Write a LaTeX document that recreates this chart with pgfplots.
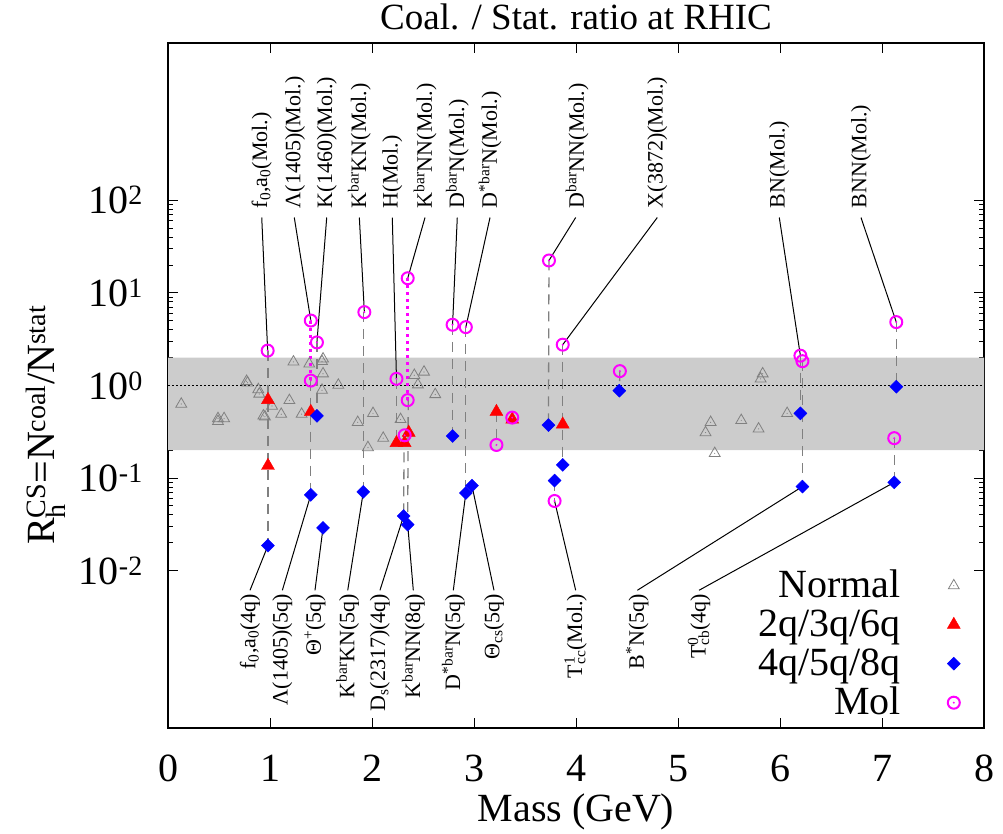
\documentclass[border=0pt]{standalone}
\usepackage{fontspec}
\setmainfont{Liberation Serif}
\usepackage{pgfplots}
\pgfplotsset{compat=1.18}
\usetikzlibrary{plotmarks}
\newcommand\fbig{\fontsize{40}{48}\selectfont}
\newcommand\fx{\fontsize{40}{46}\selectfont}
\newcommand\ftitle{\fontsize{37}{44}\selectfont}
\newcommand\flab{\fontsize{22}{26}\selectfont}
\pgfdeclareplotmark{tridot}{%
  \pgfpathmoveto{\pgfqpoint{0pt}{\pgfplotmarksize}}%
  \pgfpathlineto{\pgfqpoint{-.866\pgfplotmarksize}{-.5\pgfplotmarksize}}%
  \pgfpathlineto{\pgfqpoint{.866\pgfplotmarksize}{-.5\pgfplotmarksize}}%
  \pgfpathclose\pgfusepathqstroke
  \pgfpathcircle{\pgfpointorigin}{0.6pt}\pgfusepathqfill}
\pgfdeclareplotmark{circdot}{%
  \pgfpathcircle{\pgfpointorigin}{\pgfplotmarksize}\pgfusepathqstroke
  \pgfpathcircle{\pgfpointorigin}{1.1pt}\pgfusepathqfill}
\definecolor{bandgray}{RGB}{204,204,204}
\definecolor{ngray}{RGB}{128,128,128}
\definecolor{mag}{RGB}{255,0,255}
\definecolor{rd}{RGB}{255,0,0}
\definecolor{bl}{RGB}{0,0,255}
\tikzset{lab/.style={rotate=90, inner sep=0pt, font=\flab}}
\begin{document}
\begin{tikzpicture}
\useasboundingbox (0,0) rectangle (1003pt,833pt);
\begin{axis}[
  at={(168pt,105pt)}, anchor=south west,
  scale only axis, width=816pt, height=685pt,
  xmin=0, xmax=8, ymode=log, ymin=2e-4, ymax=5000,
  xtick={0,1,2,3,4,5,6,7,8},
  ytick={1e-2,1e-1,1,10,100},
  yticklabels={10\textsuperscript{-2},10\textsuperscript{-1},10\textsuperscript{0},10\textsuperscript{1},10\textsuperscript{2}},
  minor ytick={0.02,0.03,0.04,0.05,0.06,0.07,0.08,0.09,0.2,0.3,0.4,0.5,0.6,0.7,0.8,0.9,2,3,4,5,6,7,8,9,20,30,40,50,60,70,80,90},
  tick align=inside,
  major tick length=10pt, minor tick length=5pt,
  every tick/.style={black, line width=1pt},
  axis line style={line width=1.5pt},
  /pgf/number format/assume math mode=true,
  xticklabel style={font=\fx, inner sep=0pt, anchor=north, yshift=-27pt},
  yticklabel style={font=\fbig, inner sep=0pt, anchor=east, xshift=-25pt},
  title={Coal. / Stat. ratio at RHIC},
  title style={font=\ftitle, at={(axis description cs:0.5,1)}, anchor=base, yshift=7pt, inner sep=0pt},
  xlabel={Mass (GeV)},
  xlabel style={font=\fx, at={(axis description cs:0.5,0)}, anchor=base, yshift=-93pt, inner sep=0pt},
  ylabel={R\rlap{\textsubscript{h}}\textsuperscript{CS}=N\textsuperscript{coal}/N\textsuperscript{stat}},
  ylabel style={font=\fbig, at={(axis description cs:-0.1385,0.442)}, anchor=base, inner sep=0pt},
  legend style={at={(0.9755,0.2336)}, anchor=north east, draw=none, fill=none, font=\fbig,
    nodes={inner sep=0pt, text height=27pt, text depth=12pt}},
  legend cell align=right,
  legend plot pos=right,
  pt/.style={only marks, legend image code/.code={\path[draw=none,fill=none] (0pt,-5pt) -- (60pt,5pt); \draw[##1] plot coordinates {(53pt,4pt)};}},
  vd/.style={ngray, line width=1.3pt, dash pattern=on 10pt off 7pt, forget plot},
  md/.style={mag, line width=3pt, dash pattern=on 3pt off 4pt, forget plot},
  ld/.style={black, line width=1pt, forget plot},
]
% band and unity line
\addplot[draw=none, fill=bandgray, forget plot] coordinates {(0,0.2) (8,0.2) (8,2) (0,2) (0,0.2)};
\addplot[black, line width=0.8pt, dash pattern=on 1.5pt off 2.5pt, forget plot] coordinates {(0,1) (8,1)};
% vertical connecting lines
\addplot[vd] coordinates {(0.98,2.38) (0.98,0.0187)};
\addplot[vd] coordinates {(1.40,1.13) (1.40,0.066)};
\addplot[vd] coordinates {(1.46,2.92) (1.46,0.47)};
\addplot[vd] coordinates {(1.92,6.2) (1.92,0.071)};
\addplot[vd] coordinates {(2.24,1.18) (2.24,0.24)};
\addplot[vd] coordinates {(2.315,0.29) (2.31,0.039)};
\addplot[vd] coordinates {(2.355,0.695) (2.35,0.0314)};
\addplot[vd] coordinates {(2.79,4.53) (2.79,0.285)};
\addplot[vd] coordinates {(2.92,4.27) (2.92,0.069)};
\addplot[vd] coordinates {(3.22,0.52) (3.22,0.228)};
\addplot[vd] coordinates {(3.735,22.4) (3.73,0.374)};
\addplot[vd] coordinates {(3.79,0.094) (3.79,0.0566)};
\addplot[vd] coordinates {(3.87,2.76) (3.87,0.139)};
\addplot[vd] coordinates {(4.43,1.43) (4.425,0.88)};
\addplot[vd] coordinates {(6.20,2.10) (6.20,0.50)};
\addplot[vd] coordinates {(6.22,1.83) (6.22,0.081)};
\addplot[vd] coordinates {(7.14,4.84) (7.14,0.97)};
\addplot[vd] coordinates {(7.12,0.27) (7.12,0.090)};
\addplot[md] coordinates {(1.40,5.03) (1.40,1.13)};
\addplot[md] coordinates {(2.35,14.4) (2.35,0.695)};
% leader lines, top labels
\addplot[ld] coordinates {(0.919,65.2) (0.977,2.38)};
\addplot[ld] coordinates {(1.238,65.2) (1.40,5.03)};
\addplot[ld] coordinates {(1.556,65.2) (1.46,2.92)};
\addplot[ld] coordinates {(1.876,65.2) (1.925,6.2)};
\addplot[ld] coordinates {(2.199,65.2) (2.24,1.18)};
\addplot[ld] coordinates {(2.520,65.2) (2.35,14.4)};
\addplot[ld] coordinates {(2.836,65.2) (2.79,4.53)};
\addplot[ld] coordinates {(3.157,65.2) (2.92,4.27)};
\addplot[ld] coordinates {(3.997,65.2) (3.735,22.4)};
\addplot[ld] coordinates {(4.797,65.2) (3.87,2.76)};
\addplot[ld] coordinates {(5.993,65.2) (6.20,2.10)};
\addplot[ld] coordinates {(6.794,65.2) (7.14,4.84)};
% leader lines, bottom labels
\addplot[ld] coordinates {(0.804,0.00614) (0.98,0.0187)};
\addplot[ld] coordinates {(1.121,0.00614) (1.40,0.066)};
\addplot[ld] coordinates {(1.441,0.00614) (1.52,0.029)};
\addplot[ld] coordinates {(1.762,0.00614) (1.915,0.071)};
\addplot[ld] coordinates {(2.078,0.00614) (2.31,0.039)};
\addplot[ld] coordinates {(2.405,0.00614) (2.35,0.0314)};
\addplot[ld] coordinates {(2.797,0.00614) (2.92,0.069)};
\addplot[ld] coordinates {(3.196,0.00614) (2.98,0.083)};
\addplot[ld] coordinates {(3.997,0.00614) (3.79,0.0566)};
\addplot[ld] coordinates {(4.601,0.00614) (6.22,0.081)};
\addplot[ld] coordinates {(5.206,0.00614) (7.12,0.090)};
% labels
\node[lab, anchor=west] at (axis cs:0.919,82) {f\textsubscript{0},a\textsubscript{0}(Mol.)};
\node[lab, anchor=west] at (axis cs:1.245,82) {Λ(1405)(Mol.)};
\node[lab, anchor=west] at (axis cs:1.556,82) {K(1460)(Mol.)};
\node[lab, anchor=west] at (axis cs:1.876,82) {K\textsuperscript{bar}KN(Mol.)};
\node[lab, anchor=west] at (axis cs:2.199,82) {H(Mol.)};
\node[lab, anchor=west] at (axis cs:2.520,82) {K\textsuperscript{bar}NN(Mol.)};
\node[lab, anchor=west] at (axis cs:2.836,82) {D\textsuperscript{bar}N(Mol.)};
\node[lab, anchor=west] at (axis cs:3.157,82) {D\textsuperscript{*bar}N(Mol.)};
\node[lab, anchor=west] at (axis cs:4.01,82) {D\textsuperscript{bar}NN(Mol.)};
\node[lab, anchor=west] at (axis cs:4.797,82) {X(3872)(Mol.)};
\node[lab, anchor=west] at (axis cs:5.993,82) {BN(Mol.)};
\node[lab, anchor=west] at (axis cs:6.794,82) {BNN(Mol.)};
\node[lab, anchor=east] at (axis cs:0.804,0.00566) {f\textsubscript{0},a\textsubscript{0}(4q)};
\node[lab, anchor=east] at (axis cs:1.121,0.00566) {Λ(1405)(5q)};
\node[lab, anchor=east] at (axis cs:1.441,0.00566) {Θ\textsuperscript{+}(5q)};
\node[lab, anchor=east] at (axis cs:1.762,0.00566) {K\textsuperscript{bar}KN(5q)};
\node[lab, anchor=east] at (axis cs:2.078,0.00566) {D\textsubscript{s}(2317)(4q)};
\node[lab, anchor=east] at (axis cs:2.405,0.00566) {K\textsuperscript{bar}NN(8q)};
\node[lab, anchor=east] at (axis cs:2.797,0.00566) {D\textsuperscript{*bar}N(5q)};
\node[lab, anchor=east] at (axis cs:3.196,0.00566) {Θ\textsubscript{cs}(5q)};
\node[lab, anchor=east] at (axis cs:3.997,0.00566) {T\rlap{\textsuperscript{1}}\textsubscript{cc}(Mol.)};
\node[lab, anchor=east] at (axis cs:4.601,0.00566) {B\textsuperscript{*}N(5q)};
\node[lab, anchor=east] at (axis cs:5.206,0.00566) {T\rlap{\textsuperscript{0}}\textsubscript{cb}(4q)};
% data
\addplot[pt, mark=tridot, mark size=6.3pt, mark options={draw=ngray, fill=ngray, line width=0.8pt}] coordinates {
(0.13,0.63) (0.49,0.44) (0.49,0.41) (0.55,0.44) (0.77,1.11) (0.78,1.07) (0.885,0.905) (0.895,0.81)
(0.935,0.47) (0.95,0.46) (1.02,0.60) (1.19,0.69) (1.11,0.49) (1.23,1.80) (1.31,0.49) (1.385,1.71)
(1.51,1.82) (1.52,1.94) (1.52,1.34) (1.51,0.89) (1.67,1.01) (1.86,0.40) (2.01,0.50) (1.96,0.214)
(2.11,0.27) (2.28,0.43) (2.415,1.29) (2.51,1.40) (2.45,1.02) (2.62,0.80)
(5.81,1.18) (5.83,1.34) (5.32,0.40) (5.27,0.31) (5.36,0.185) (5.62,0.42) (5.79,0.34) (6.07,0.50)};
\addlegendentry{Normal}
\addplot[pt, mark=triangle*, mark size=7.5pt, mark options={draw=rd, fill=rd}] coordinates {
(0.98,0.70) (0.98,0.136) (1.40,0.52) (2.24,0.24) (2.32,0.24) (2.36,0.31) (3.22,0.52) (3.375,0.43) (3.87,0.38)};
\addlegendentry{2q/3q/6q}
\addplot[pt, mark=square*, mark size=4.6pt, mark options={draw=bl, fill=bl, rotate=45}] coordinates {
(0.98,0.0187) (1.46,0.47) (1.40,0.066) (1.52,0.029) (1.915,0.071) (2.31,0.039) (2.35,0.0314) (2.92,0.069)
(2.98,0.083) (2.79,0.285) (3.73,0.374) (3.87,0.139) (3.79,0.094) (4.425,0.88) (6.20,0.50) (6.22,0.081)
(7.14,0.97) (7.12,0.090)};
\addlegendentry{4q/5q/8q}
\addplot[pt, mark=circdot, mark size=6pt, mark options={draw=mag, fill=mag, line width=2pt}] coordinates {
(0.977,2.38) (1.40,5.03) (1.40,1.13) (1.46,2.92) (1.925,6.2) (2.24,1.18) (2.35,14.4) (2.35,0.695)
(2.32,0.29) (2.79,4.53) (2.92,4.27) (3.22,0.228) (3.375,0.45) (3.735,22.4) (3.87,2.76) (4.43,1.43)
(6.20,2.10) (6.22,1.83) (7.14,4.84) (7.12,0.27) (3.79,0.0566)};
\addlegendentry{Mol}
\end{axis}
\end{tikzpicture}
\end{document}
